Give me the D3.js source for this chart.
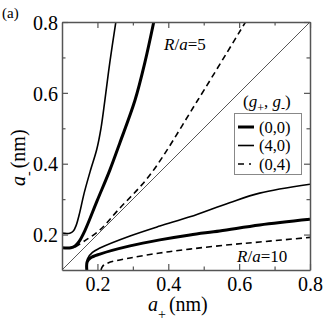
<!DOCTYPE html>
<html>
<head>
<meta charset="utf-8">
<script src="https://cdn.jsdelivr.net/npm/d3@7"></script>
<style>
  body { margin: 0; background: #fff; }
</style>
</head>
<body>
<svg width="327" height="323"></svg>
<script>
// axis values
const majorTicks = [0.2, 0.4, 0.6, 0.8];
const minorTicks = [0.3, 0.5, 0.7];
const tickLabels = ["0.2", "0.4", "0.6", "0.8"];

// R/a = 5 branch (a- > a+)
const up00 = [[0.1,0.163],[0.125,0.163],[0.137,0.168],[0.148,0.180],[0.165,0.212],[0.199,0.295],
  [0.235,0.382],[0.263,0.458],[0.306,0.579],[0.334,0.686],[0.359,0.8]];
const up40 = [[0.1,0.204],[0.122,0.204],[0.132,0.210],[0.140,0.226],[0.150,0.262],[0.162,0.315],
  [0.180,0.380],[0.198,0.440],[0.210,0.500],[0.221,0.579],[0.235,0.686],[0.252,0.8]];
const up04 = [[0.137,0.165],[0.165,0.183],[0.207,0.213],[0.258,0.269],[0.348,0.368],[0.483,0.579],[0.618,0.8]];

// R/a = 10 branch (a- < a+)
const lo00 = [[0.170,0.1],[0.171,0.123],[0.180,0.134],[0.207,0.145],[0.292,0.168],[0.376,0.185],
  [0.461,0.199],[0.545,0.210],[0.658,0.227],[0.8,0.243]];
const lo40 = [[0.170,0.1],[0.172,0.132],[0.186,0.150],[0.207,0.162],[0.292,0.196],[0.376,0.224],
  [0.461,0.250],[0.573,0.290],[0.658,0.317],[0.8,0.342]];
const lo04 = [[0.210,0.1],[0.215,0.111],[0.230,0.120],[0.292,0.134],[0.376,0.148],[0.461,0.159],
  [0.559,0.170],[0.658,0.179],[0.8,0.192]];

const diag = [[0.1,0.1],[0.8,0.8]];
const legendItems = ["(0,0)", "(4,0)", "(0,4)"];

const styles = {
  "(0,0)": { w: 3, dash: null },
  "(4,0)": { w: 1.6, dash: null },
  "(0,4)": { w: 1.6, dash: "6,4" }
};

const serif = "'Liberation Serif', 'DejaVu Serif', 'Times New Roman', Times, serif";

const x = d3.scaleLinear().domain([0.1, 0.8]).range([62, 310]);
const y = d3.scaleLinear().domain([0.1, 0.8]).range([270, 22]);

const svg = d3.select("svg");

const line = d3.line().x(d => x(d[0])).y(d => y(d[1])).curve(d3.curveCatmullRom.alpha(0.5));
svg.append("clipPath").attr("id", "c").append("rect")
  .attr("x", 62).attr("y", 22).attr("width", 248).attr("height", 248);

const plot = svg.append("g").attr("clip-path", "url(#c)");

plot.append("path").attr("d", d3.line().x(d => x(d[0])).y(d => y(d[1]))(diag))
  .attr("fill", "none").attr("stroke", "#444").attr("stroke-width", 0.9);

const series = [[up00, "(0,0)"], [up40, "(4,0)"], [up04, "(0,4)"], [lo00, "(0,0)"], [lo40, "(4,0)"], [lo04, "(0,4)"]];
series.forEach(([pts, key]) => {
  const s = styles[key];
  plot.append("path").attr("d", line(pts))
    .attr("fill", "none").attr("stroke", "#000")
    .attr("stroke-width", s.w)
    .attr("stroke-dasharray", s.dash);
});

// axes with inward ticks on all four sides
const axisColor = "#555";
function axes(axisFn, scale, transform, labels) {
  const g = svg.append("g").attr("transform", transform);
  g.call(axisFn(scale).tickValues(majorTicks).tickSize(-6).tickSizeOuter(0)
    .tickFormat((d, i) => labels ? tickLabels[i] : ""));
  g.attr("font-family", serif);
  g.select(".domain").attr("stroke", axisColor).attr("stroke-width", 1.5);
  g.selectAll(".tick line").attr("stroke", axisColor).attr("stroke-width", 1.2);
  g.selectAll(".tick text").attr("font-size", 20).attr("fill", "#000");
  const m = svg.append("g").attr("transform", transform);
  m.call(axisFn(scale).tickValues(minorTicks).tickSize(-3.5).tickSizeOuter(0).tickFormat(""));
  m.select(".domain").remove();
  m.selectAll(".tick line").attr("stroke", axisColor).attr("stroke-width", 1.2);
  return g;
}
const bx = axes(d3.axisBottom, x, "translate(0,270)", true);
bx.selectAll(".tick text").attr("y", 7).attr("dy", "0.71em");
const lx = axes(d3.axisLeft, y, "translate(62,0)", true);
lx.selectAll(".tick text").attr("x", -4).attr("dy", "0.36em");
axes(d3.axisTop, x, "translate(0,22)", false);
axes(d3.axisRight, y, "translate(310,0)", false);

// annotations
function txt(xp, yp, size) {
  return svg.append("text").attr("x", xp).attr("y", yp).attr("font-size", size).attr("font-family", serif);
}
txt(2, 18, 15).text("(a)");

const r5 = txt(164, 50, 17);
r5.append("tspan").attr("font-style", "italic").text("R");
r5.append("tspan").text("/");
r5.append("tspan").attr("font-style", "italic").text("a");
r5.append("tspan").text("=5");

const r10 = txt(237, 262, 17);
r10.append("tspan").attr("font-style", "italic").text("R");
r10.append("tspan").text("/");
r10.append("tspan").attr("font-style", "italic").text("a");
r10.append("tspan").text("=10");

// legend
const lt = txt(243, 107, 17);
lt.append("tspan").text("(");
lt.append("tspan").attr("font-style", "italic").text("g");
lt.append("tspan").attr("font-size", 12).attr("dy", 5).text("+");
lt.append("tspan").attr("dy", -5).text(", ");
lt.append("tspan").attr("font-style", "italic").text("g");
lt.append("tspan").attr("font-size", 12).attr("dy", 5).text("-");
lt.append("tspan").attr("dy", -5).text(")");

svg.append("rect").attr("x", 234.5).attr("y", 113.5).attr("width", 67).attr("height", 61)
  .attr("fill", "#fff").attr("stroke", "#888").attr("stroke-width", 1);

const ly = d3.scalePoint().domain(legendItems).range([127, 164]);
legendItems.forEach(k => {
  const s = styles[k];
  svg.append("line").attr("x1", 238).attr("x2", 254).attr("y1", ly(k)).attr("y2", ly(k))
    .attr("stroke", "#000").attr("stroke-width", s.w).attr("stroke-dasharray", k === "(0,4)" ? "6,5,2,5" : null);
  txt(259, ly(k) + 5.5, 16.5).text(k);
});

// axis titles
const xl = txt(148, 311, 20);
xl.append("tspan").attr("font-style", "italic").text("a");
xl.append("tspan").attr("font-size", 14).attr("dy", 8).text("+");
xl.append("tspan").attr("dy", -8).attr("dx", 3).text("(nm)");

const yl = svg.append("text").attr("transform", "translate(25,186) rotate(-90)")
  .attr("font-size", 20).attr("font-family", serif);
yl.append("tspan").attr("font-style", "italic").text("a");
yl.append("tspan").attr("font-size", 14).attr("dy", 8).text("-");
yl.append("tspan").attr("dy", -8).attr("dx", 3).text("(nm)");
</script>
</body>
</html>
